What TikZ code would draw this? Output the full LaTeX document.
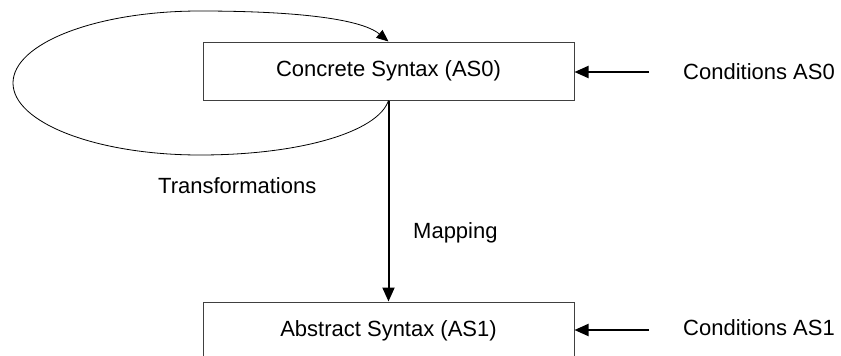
\documentclass[tikz,border=0pt]{standalone}
\usepackage{fontspec}
\setmainfont{Liberation Sans}
\usetikzlibrary{arrows.meta}
\begin{document}
\begin{tikzpicture}[x=1pt,y=-1pt,
  every node/.style={font=\fontsize{22}{26}\selectfont},
  box/.style={draw=black!75, line width=1pt, minimum width=371pt,
    minimum height=58pt, inner sep=0pt},
  flow/.style={line width=2pt, -{Triangle[length=14pt,width=12pt]}},
  cycle/.style={line width=0.8pt, -{Triangle[length=12pt,width=10pt]}},
  lbl/.style={anchor=base west, inner sep=0pt}]
\useasboundingbox (0,0) rectangle (841,356);
\clip (0,0) rectangle (841,356);

% the two syntax levels
\node[box] (cs) at (388.5,71) {Concrete Syntax (AS0)};
\node[box] (as) at (388.5,331) {Abstract Syntax (AS1)};

% side labels
\node[lbl] (c0) at (683,79) {Conditions AS0};
\node[lbl] (c1) at (683,335.5) {Conditions AS1};
\node[lbl] (tr) at (158,193) {Transformations};
\node[lbl] (mp) at (413,238) {Mapping};

% condition arrows
\coordinate (t0) at (649,72);
\coordinate (t1) at (649,330);
\draw[flow] (t0) -- (t0 -| cs.east);
\draw[flow] (t1) -- (t1 -| as.east);

% mapping from concrete to abstract syntax
\draw[flow] (cs.south) -- (as.north);

% transformation loop on the concrete syntax
\draw[cycle] (cs.south)
  .. controls (378,132) and (300,155) .. (200,155)
  .. controls (96.7,155) and (13,122.8) .. (13,83)
  .. controls (13,43.2) and (96.7,11) .. (200,11)
  .. controls (290,11) and (360,18) .. (cs.north);
\end{tikzpicture}
\end{document}
